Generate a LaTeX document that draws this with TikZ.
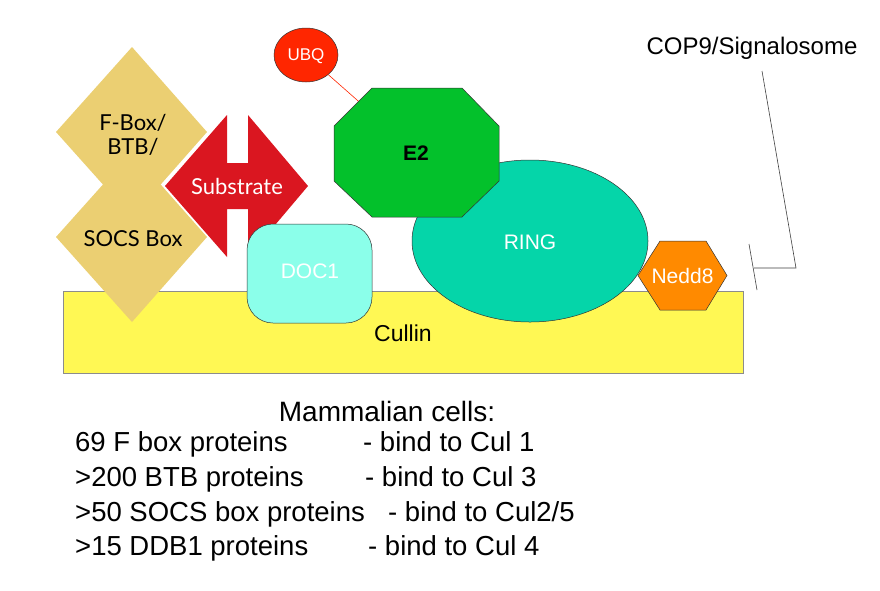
\documentclass[tikz,border=0pt]{standalone}
\usepackage{fontspec}
\setmainfont{Liberation Sans}
\newfontfamily\gill{Lato}
\usetikzlibrary{shapes.geometric,calc}
\definecolor{cullinY}{HTML}{FFF854}
\definecolor{adaptorG}{HTML}{EBCF72}
\definecolor{substrR}{HTML}{DA1620}
\definecolor{docC}{HTML}{8BFFEA}
\definecolor{ringG}{HTML}{05D5A9}
\definecolor{eTwoG}{HTML}{03C12B}
\definecolor{ubqR}{HTML}{FF2600}
\definecolor{neddO}{HTML}{FF8A00}
\tikzset{
  protein/.style={draw=black!80, line width=0.5pt},
  whitelabel/.style={text=white, font=\fontsize{21}{24}\selectfont},
  gilllabel/.style={font=\gill\fontsize{22}{24}\selectfont, align=center},
  tabletext/.style={font=\fontsize{27.5}{30}\selectfont, anchor=base west, inner sep=0pt},
}
\begin{document}
\begin{tikzpicture}[x=1pt,y=-1pt]
\useasboundingbox[fill=white] (0,0) rectangle (880,590);

% Cullin scaffold
\node[draw=black!45, line width=0.6pt, fill=cullinY, minimum width=680pt, minimum height=82pt,
      inner sep=0pt] (cullin) at (403,332) {};
\node[font=\fontsize{23}{25}\selectfont] (cullintxt) at (403,333) {Cullin};

% adaptor diamonds
\fill[adaptorG] (56,132) -- (132,47) -- (207,132) -- (132,217) -- cycle;
\fill[adaptorG] (56,237) -- (132,152) -- (207,237) -- (132,322) -- cycle;
\node[gilllabel] (fbox) at (133,135) {F-Box/\\BTB/};
\node[gilllabel] (socs) at (133,239) {SOCS Box};

% substrate double arrow
\fill[substrR] (165,186) -- (227,115) -- (227,163) -- (248,163) -- (248,115) -- (308,186)
  -- (248,257) -- (248,209) -- (227,209) -- (227,257) -- cycle;
\node[gilllabel, text=white] (substrate) at (237,186) {Substrate};

% DOC1
\node[protein, fill=docC, rounded corners=26pt, minimum width=125pt, minimum height=99pt,
      inner sep=0pt] (doc) at (309.5,273.5) {};
\node[whitelabel] (doctxt) at (310,271) {DOC1};

% UBQ linked to E2
\node[protein, ellipse, fill=ubqR, minimum width=64pt, minimum height=54pt, inner sep=0pt]
  (ubq) at (306,55) {};
\coordinate (e2c) at (416,152);
\draw[ubqR, line width=0.6pt] (ubq) -- (e2c);
\node[text=white, font=\fontsize{17}{20}\selectfont] (ubqtxt) at (306,56) {UBQ};

% RING
\node[protein, ellipse, fill=ringG, minimum width=236pt, minimum height=162pt, inner sep=0pt]
  (ring) at (530,241) {};
\node[whitelabel] (ringtxt) at (530,242) {RING};

% E2 octagon
\draw[protein, fill=eTwoG] (372,88) -- (462,88) -- (499,126) -- (499,181) -- (462,217)
  -- (372,217) -- (334,181) -- (334,126) -- cycle;
\node[font=\bfseries\fontsize{21}{24}\selectfont] (e2) at (416,153) {E2};

% Nedd8 hexagon
\draw[protein, fill=neddO] (638,275.5) -- (660,241) -- (706,241) -- (727,275.5)
  -- (706,310) -- (660,310) -- cycle;
\node[whitelabel] (nedd) at (682.5,276) {Nedd8};

% COP9/Signalosome with blunt end
\node[font=\fontsize{24}{26}\selectfont] (cop) at (752,48) {COP9/Signalosome};
\coordinate (c1) at (762,71);
\coordinate (c2) at (796,268);
\coordinate (c3) at (754,268);
\coordinate (b1) at (749,244);
\coordinate (b2) at (757,290);
\draw[black!75, line width=0.6pt] (c1) -- (c2) -- (c3);
\draw[black!75, line width=0.6pt] (b1) -- (b2);

% table of adaptor families
\node[font=\fontsize{28}{30}\selectfont] (mamm) at (387,411) {Mammalian cells:};
\node[tabletext] (r1a) at (75,451) {69 F box proteins};
\node[tabletext] (r1b) at (363,451) {- bind to Cul 1};
\node[tabletext] (r2a) at (75,486) {>200 BTB proteins};
\node[tabletext] (r2b) at (365,486) {- bind to Cul 3};
\node[tabletext] (r3a) at (75,521) {>50 SOCS box proteins};
\node[tabletext] (r3b) at (388,521) {- bind to Cul2/5};
\node[tabletext] (r4a) at (75,555) {>15 DDB1 proteins};
\node[tabletext] (r4b) at (368,555) {- bind to Cul 4};
\end{tikzpicture}
\end{document}
